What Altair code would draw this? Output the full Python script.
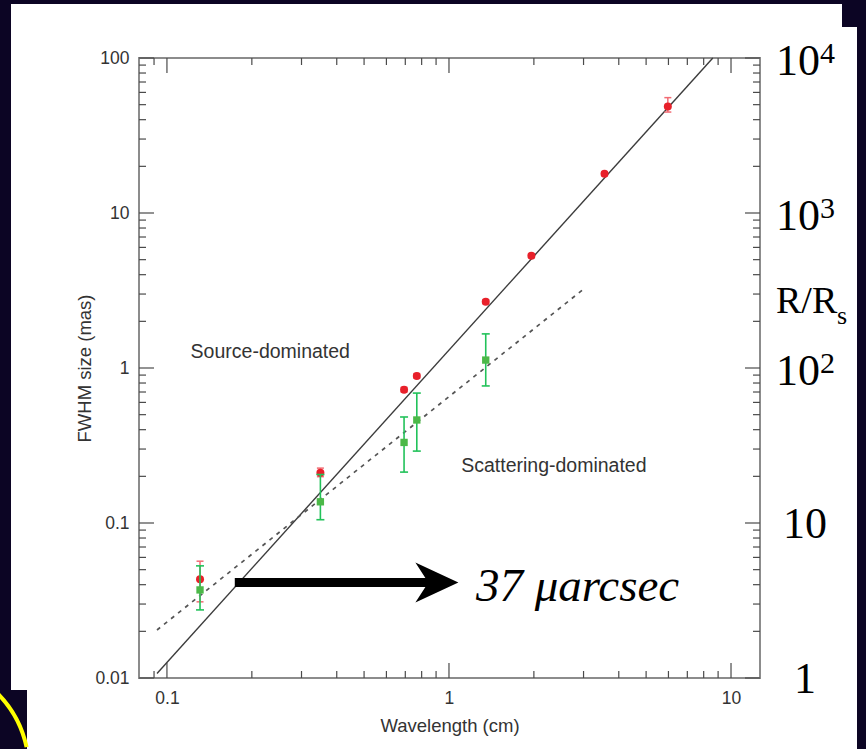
import altair as alt
import pandas as pd

# ---------------- data ----------------
# red circles (measured size) with error bars
wl_red = [0.131, 0.350, 0.693, 0.769, 1.35, 1.96, 3.56, 5.97]
fwhm_red = [0.0433, 0.211, 0.724, 0.889, 2.68, 5.30, 17.9, 48.7]
red_lo = [0.031, 0.199, 0.70, 0.86, 2.60, 5.15, 17.4, 44.8]
red_hi = [0.0567, 0.226, 0.75, 0.92, 2.76, 5.45, 18.4, 55.5]

# green squares (intrinsic size) with error bars
wl_green = [0.131, 0.350, 0.693, 0.769, 1.35]
fwhm_green = [0.0370, 0.137, 0.331, 0.462, 1.125]
green_lo = [0.0275, 0.105, 0.213, 0.291, 0.766]
green_hi = [0.0529, 0.2055, 0.483, 0.689, 1.66]

# solid (scattering law) and dashed (intrinsic) lines, endpoints
solid_wl = [0.0922, 8.62]
solid_fwhm = [0.0107, 100.0]
dashed_wl = [0.0922, 2.97]
dashed_fwhm = [0.0204, 3.18]

# axis ticks
x_major = [0.1, 1, 10]
x_minor = [0.09, 0.2, 0.3, 0.4, 0.5, 0.6, 0.7, 0.8, 0.9, 2, 3, 4, 5, 6, 7, 8, 9]
y_major = [0.01, 0.1, 1, 10, 100]
y_minor = [0.02, 0.03, 0.04, 0.05, 0.06, 0.07, 0.08, 0.09,
           0.2, 0.3, 0.4, 0.5, 0.6, 0.7, 0.8, 0.9,
           2, 3, 4, 5, 6, 7, 8, 9,
           20, 30, 40, 50, 60, 70, 80, 90]

# annotations
region_text = ["Source-dominated", "Scattering-dominated"]
region_wl = [0.1213, 1.105]
region_fwhm = [1.259, 0.2335]

arrow_wl = [0.174, 0.93]
arrow_fwhm = [0.0413, 0.0413]
head_wl = [0.906]
head_fwhm = [0.0413]
arrow_text = ["37 μarcsec"]
arrow_text_wl = [1.246]
arrow_text_fwhm = [0.0314]

# right-hand R/Rs scale (slide annotations)
rs_pow_fwhm = [100, 10, 1]
rs_pow_base = ["10", "10", "10"]
rs_pow_sup = ["4", "3", "2"]
rs_plain_fwhm = [0.1, 0.01]
rs_plain_text = ["10", "1"]
rs_title_fwhm = [2.26]

# ---------------- styling ----------------
W, H = 621, 620
DARK = "#0c0524"
SANS = "Liberation Sans"
SERIF = "Liberation Serif"
TXT = "#333333"
TICK = "#4a4a4a"
RED = "#e8202a"
RED_ERR = "#f26b73"
GREEN = "#4cb848"
GREEN_ERR = "#22c25a"

XS = alt.Scale(type="log", domain=[0.0796, 12.67], nice=False)
YS = alt.Scale(type="log", domain=[0.01, 100], nice=False)
XAX = alt.Axis(values=x_major, format="~g", title="Wavelength (cm)", ticks=False,
               tickSize=0, domain=False, grid=False, labelPadding=11, titlePadding=10,
               labelFont=SANS, labelFontSize=17.5, labelColor=TXT,
               titleFont=SANS, titleFontSize=18.5, titleFontWeight="normal", titleColor=TXT)
YAX = alt.Axis(values=y_major, format="~g", title="FWHM size (mas)", ticks=False,
               tickSize=0, domain=False, grid=False, labelPadding=10, titlePadding=0,
               labelFont=SANS, labelFontSize=17.5, labelColor=TXT,
               titleFont=SANS, titleFontSize=18.5, titleFontWeight="normal", titleColor=TXT)


def xe(f):
    return alt.X(f, type="quantitative", scale=XS, axis=XAX)


def ye(f):
    return alt.Y(f, type="quantitative", scale=YS, axis=YAX)


one = pd.DataFrame({"k": [0]})
layers = []

# dark slide background strips around the white figure panel
for (x1, x2, y1, y2) in [(-139, 727, -58, -54), (-139, -128, -58, 691), (718, 727, -58, 691),
                         (703, 727, -58, -31), (-139, -112, 632, 691)]:
    layers.append(alt.Chart(one).mark_rect(color=DARK).encode(
        x=alt.value(x1), x2=alt.value(x2), y=alt.value(y1), y2=alt.value(y2)))

layers.append(alt.Chart(one).mark_arc(color="#ffff00", theta=0.78, theta2=1.36,
                                      radius=111, radius2=107).encode(
    x=alt.value(-219), y=alt.value(712)))

# inward ticks on all four sides
for vals, ln in [(x_major, 15), (x_minor, 7)]:
    df = pd.DataFrame({"v": vals})
    layers.append(alt.Chart(df).mark_rule(color=TICK, strokeWidth=1.2).encode(
        x=xe("v"), y=alt.value(H), y2=alt.value(H - ln)))
    layers.append(alt.Chart(df).mark_rule(color=TICK, strokeWidth=1.2).encode(
        x=xe("v"), y=alt.value(0), y2=alt.value(ln)))
for vals, ln in [(y_major, 15), (y_minor, 7)]:
    df = pd.DataFrame({"v": vals})
    layers.append(alt.Chart(df).mark_rule(color=TICK, strokeWidth=1.2).encode(
        y=ye("v"), x=alt.value(0), x2=alt.value(ln)))
    layers.append(alt.Chart(df).mark_rule(color=TICK, strokeWidth=1.2).encode(
        y=ye("v"), x=alt.value(W), x2=alt.value(W - ln)))

# lines
solid = pd.DataFrame({"wl": solid_wl, "fwhm": solid_fwhm})
dashed = pd.DataFrame({"wl": dashed_wl, "fwhm": dashed_fwhm})
layers.append(alt.Chart(solid).mark_line(color="#3c3c3c", strokeWidth=1.4).encode(
    x=xe("wl"), y=ye("fwhm")))
layers.append(alt.Chart(dashed).mark_line(color="#555555", strokeWidth=1.7,
                                          strokeDash=[4, 5]).encode(x=xe("wl"), y=ye("fwhm")))

# red points with error bars
red = pd.DataFrame({"wl": wl_red, "fwhm": fwhm_red, "lo": red_lo, "hi": red_hi})
layers.append(alt.Chart(red).mark_rule(color=RED_ERR, strokeWidth=1.5).encode(
    x=xe("wl"), y=ye("lo"), y2=alt.Y2("hi")))
for f in ["lo", "hi"]:
    layers.append(alt.Chart(red).mark_tick(color=RED_ERR, orient="horizontal", size=7,
                                           thickness=1.5, opacity=1).encode(x=xe("wl"), y=ye(f)))
layers.append(alt.Chart(red).mark_circle(color=RED, size=64, opacity=1).encode(
    x=xe("wl"), y=ye("fwhm")))

# green squares with error bars
green = pd.DataFrame({"wl": wl_green, "fwhm": fwhm_green, "lo": green_lo, "hi": green_hi})
layers.append(alt.Chart(green).mark_rule(color=GREEN_ERR, strokeWidth=1.6).encode(
    x=xe("wl"), y=ye("lo"), y2=alt.Y2("hi")))
for f in ["lo", "hi"]:
    layers.append(alt.Chart(green).mark_tick(color=GREEN_ERR, orient="horizontal", size=8,
                                             thickness=1.6, opacity=1).encode(x=xe("wl"), y=ye(f)))
layers.append(alt.Chart(green).mark_square(color=GREEN, size=54, opacity=1).encode(
    x=xe("wl"), y=ye("fwhm")))

# region labels
regions = pd.DataFrame({"t": region_text, "wl": region_wl, "fwhm": region_fwhm})
layers.append(alt.Chart(regions).mark_text(font=SANS, fontSize=19.5, color=TXT, align="left",
                                           baseline="middle").encode(
    x=xe("wl"), y=ye("fwhm"), text="t:N"))

# big arrow and label
arrow = pd.DataFrame({"wl": arrow_wl[:1], "wl2": arrow_wl[1:], "fwhm": arrow_fwhm[:1]})
layers.append(alt.Chart(arrow).mark_rule(color="black", strokeWidth=9, strokeCap="butt").encode(
    x=xe("wl"), x2=alt.X2("wl2"), y=ye("fwhm")))
head = pd.DataFrame({"wl": head_wl, "fwhm": head_fwhm})
layers.append(alt.Chart(head).mark_point(shape="M1,0 L-1,-0.93 L-0.4,0 L-1,0.93 Z", size=1849,
                                         filled=True, color="black", opacity=1,
                                         strokeWidth=0).encode(x=xe("wl"), y=ye("fwhm")))
alab = pd.DataFrame({"t": arrow_text, "wl": arrow_text_wl, "fwhm": arrow_text_fwhm})
layers.append(alt.Chart(alab).mark_text(font=SERIF, fontStyle="italic", fontSize=47, color="black",
                                        align="left", baseline="alphabetic").encode(
    x=xe("wl"), y=ye("fwhm"), text="t:N"))

# right-hand R/Rs labels
rp = pd.DataFrame({"b": rs_pow_base, "s": rs_pow_sup, "fwhm": rs_pow_fwhm})
layers.append(alt.Chart(rp).mark_text(font=SERIF, fontSize=44, color="black", align="right",
                                      baseline="alphabetic", dy=17).encode(
    x=alt.value(681), y=ye("fwhm"), text="b:N"))
layers.append(alt.Chart(rp).mark_text(font=SERIF, fontSize=30, color="black", align="left",
                                      baseline="alphabetic", dy=5).encode(
    x=alt.value(681), y=ye("fwhm"), text="s:N"))
rpl = pd.DataFrame({"t": rs_plain_text, "fwhm": rs_plain_fwhm})
layers.append(alt.Chart(rpl).mark_text(font=SERIF, fontSize=44, color="black", align="center",
                                       baseline="alphabetic", dy=15).encode(
    x=alt.value(666), y=ye("fwhm"), text="t:N"))
rt = pd.DataFrame({"t": ["R/R"], "s": ["s"], "fwhm": rs_title_fwhm})
layers.append(alt.Chart(rt).mark_text(font=SERIF, fontSize=38, color="black", align="left",
                                      baseline="alphabetic").encode(
    x=alt.value(637), y=ye("fwhm"), text="t:N"))
layers.append(alt.Chart(rt).mark_text(font=SERIF, fontSize=26, color="black", align="left",
                                      baseline="alphabetic", dy=11).encode(
    x=alt.value(698), y=ye("fwhm"), text="s:N"))

chart = alt.layer(*layers).properties(
    width=W, height=H,
    padding={"left": 139, "top": 58, "right": 106, "bottom": 71},
    autosize=alt.AutoSizeParams(type="none"),
).configure(background="white").configure_view(stroke="#8c8c8c", strokeWidth=2)

chart.save("out.html", embed_options={"renderer": "svg", "actions": False})
